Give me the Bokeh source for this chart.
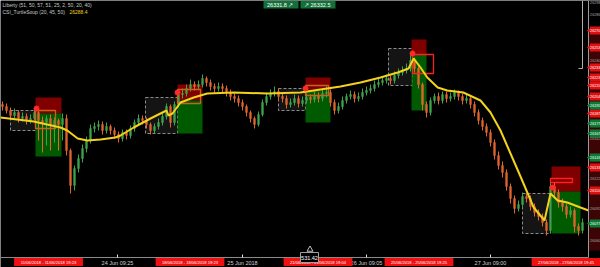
from bokeh.plotting import figure
from bokeh.models import Range1d
from bokeh.core.properties import value
from bokeh.embed import file_html
from bokeh.resources import INLINE

# ---------------- data ----------------
first_open = 26196
closes = [26194, 26190, 26185, 26188, 26182, 26184, 26180, 26182, 26188, 26180,
          26178, 26182, 26175, 26180, 26176, 26182, 26150, 26115, 26132, 26142,
          26152, 26160, 26172, 26174, 26176, 26170, 26174, 26170, 26166, 26162,
          26168, 26165, 26172, 26178, 26182, 26180, 26176, 26170, 26174, 26178,
          26184, 26194, 26178, 26196, 26206, 26207, 26212, 26216, 26214, 26216,
          26222, 26218, 26214, 26212, 26214, 26212, 26208, 26204, 26202, 26198,
          26194, 26188, 26182, 26176, 26186, 26198, 26204, 26207, 26209, 26204,
          26202, 26196, 26198, 26202, 26197, 26200, 26203, 26201, 26205, 26202,
          26207, 26208, 26198, 26190, 26194, 26200, 26204, 26206, 26202, 26204,
          26208, 26210, 26212, 26216, 26218, 26220, 26222, 26220, 26225, 26228,
          26230, 26232, 26240, 26232, 26216, 26196, 26188, 26200, 26204, 26200,
          26206, 26202, 26204, 26208, 26204, 26200, 26202, 26196, 26188, 26180,
          26174, 26168, 26158, 26145, 26135, 26128, 26114, 26102, 26092, 26096,
          26104, 26102, 26094, 26088, 26084, 26078, 26070, 26114, 26108, 26098,
          26094, 26086, 26090, 26074, 26070, 26078]
highs = [26199, 26197, 26193, 26192, 26190, 26188, 26187, 26186, 26193, 26190,
         26184, 26185, 26186, 26183, 26182, 26187, 26186, 26152, 26135, 26146,
         26156, 26164, 26176, 26178, 26180, 26179, 26178, 26176, 26173, 26169,
         26171, 26171, 26175, 26181, 26186, 26185, 26183, 26178, 26177, 26182,
         26188, 26197, 26196, 26199, 26210, 26212, 26216, 26221, 26219, 26220,
         26226, 26224, 26221, 26217, 26218, 26217, 26215, 26211, 26207, 26205,
         26201, 26196, 26190, 26184, 26189, 26201, 26208, 26211, 26214, 26212,
         26207, 26205, 26202, 26206, 26205, 26204, 26207, 26206, 26209, 26208,
         26212, 26214, 26211, 26201, 26198, 26204, 26207, 26210, 26209, 26208,
         26212, 26214, 26216, 26220, 26222, 26224, 26226, 26225, 26229, 26232,
         26234, 26237, 26247, 26243, 26234, 26218, 26199, 26203, 26207, 26208,
         26209, 26209, 26208, 26211, 26210, 26207, 26206, 26204, 26199, 26191,
         26183, 26177, 26171, 26161, 26149, 26139, 26131, 26117, 26105, 26100,
         26108, 26107, 26105, 26097, 26091, 26087, 26081, 26122, 26118, 26111,
         26102, 26097, 26094, 26092, 26077, 26082]
lows = [26190, 26187, 26181, 26182, 26178, 26179, 26176, 26177, 26180, 26160,
        26148, 26155, 26150, 26158, 26150, 26160, 26145, 26107, 26110, 26128,
        26138, 26148, 26157, 26168, 26170, 26166, 26167, 26166, 26162, 26158,
        26159, 26161, 26162, 26169, 26175, 26176, 26172, 26166, 26167, 26171,
        26175, 26181, 26173, 26175, 26193, 26202, 26204, 26209, 26210, 26211,
        26213, 26214, 26210, 26208, 26209, 26208, 26204, 26200, 26198, 26194,
        26190, 26184, 26178, 26172, 26174, 26184, 26195, 26201, 26204, 26200,
        26198, 26192, 26193, 26195, 26193, 26194, 26197, 26197, 26198, 26198,
        26199, 26203, 26194, 26186, 26187, 26191, 26197, 26201, 26198, 26199,
        26201, 26205, 26207, 26209, 26213, 26215, 26217, 26216, 26217, 26222,
        26225, 26227, 26229, 26228, 26212, 26190, 26183, 26185, 26197, 26196,
        26197, 26198, 26199, 26201, 26200, 26196, 26197, 26192, 26184, 26176,
        26170, 26164, 26154, 26141, 26131, 26123, 26110, 26097, 26087, 26089,
        26093, 26098, 26090, 26084, 26080, 26074, 26065, 26068, 26104, 26093,
        26089, 26082, 26083, 26068, 26065, 26067]

ma_index = [-0.5, 7.8, 14.5, 16.2, 18.8, 21.2, 24.5, 28.2, 29.5, 32.8, 37, 41, 41.5,
            42.5, 44.5, 47.8, 51.2, 57.8, 66.2, 74.5, 79.5, 84.5, 89.5, 94.5, 98.8,
            101.5, 102.8, 104.5, 106.2, 108.8, 111.2, 115.2, 119.5, 122, 124.5, 127,
            129.5, 132.8, 135.5, 137, 138.8, 141.2, 144.5, 146.5]
ma_value = [26183, 26179, 26173, 26170, 26162, 26160, 26161, 26163, 26165, 26173,
            26182, 26190, 26185, 26187, 26198, 26203, 26207, 26208, 26207, 26208,
            26211, 26214, 26218, 26223, 26228, 26232, 26242, 26233, 26223, 26213,
            26210, 26208, 26200, 26188, 26170, 26147, 26124, 26093, 26080, 26107,
            26100, 26098, 26093, 26090]

# consolidation ranges (gray boxes)
range_left = [2.0, 35.75, 69.0, 96.5, 130.0]
range_right = [8.25, 43.75, 75.75, 102.5, 137.0]
range_top = [26190, 26203, 26212, 26252, 26107]
range_bottom = [26170, 26167, 26190, 26215, 26067]
# risk / reward zones
zone_left = [8.25, 43.75, 75.75, 102.25, 137.25]
zone_right = [14.75, 50.0, 82.0, 106.0, 144.5]
zone_stop = [26203, 26216, 26223, 26261, 26134]
zone_entry = [26187, 26200, 26210, 26246, 26109]
zone_target = [26144, 26167, 26178, 26190, 26067]
# trade outline boxes
trade_left = [8.25, 43.75, 75.75, 102.5, 137.0]
trade_right = [13.25, 49.5, 81.5, 107.75, 142.5]
trade_top = [26190, 26211, 26215, 26246, 26122]
trade_bottom = [26172, 26197, 26205, 26227, 26118]
trade_state = ["closed", "closed", "closed", "active", "active"]
signal_x = [8.5, 43.75, 75.75, 102.5, 137.5]
signal_y = [26192, 26208, 26212, 26247, 26113]

axis_levels = [26298, 26286, 26270, 26253, 26240, 26233, 26223, 26215, 26204, 26195,
               26187, 26177, 26167, 26162, 26143, 26133, 26122, 26110, 26092, 26077,
               26060]
axis_kinds = ["plain", "plain", "sell", "sell", "plain", "sell", "sell", "sell", "sell",
              "buy", "sell", "buy", "buy", "plain", "buy", "sell", "plain", "sell",
              "plain", "buy", "plain"]

time_ticks = [28.75, 60, 91, 122]
time_labels = ["24 Jun 09:25", "25 Jun 2018", "26 Jun 09:05", "27 Jun 09:00"]
session_labels = ["11/06/2018 - 11/06/2018 19:23", "18/06/2018 - 18/06/2018 19:23",
                  "21/06/2018 - 21/06/2018 19:04", "25/06/2018 - 25/06/2018 19:25",
                  "27/06/2018 - 27/06/2018 19:45"]

legend_line1 = "Liberty (51, 50, 57, 51, 25, 2, 50, 20, 40)"
legend_line2 = "CSI_TurtleSoup (20, 45, 50)"
legend_value = "26288.4"
quote_bid = "26331.8  \u2197"
quote_ask = "\u2197  26332.5"
cursor_label = "531.42"

# ---------------- layout helpers ----------------
W, H = 600, 267
X0, X1 = -0.5, 149.5
Y_TOP, Y_BOT = 26300, 26033


def sx(px):
    return X0 + px * (X1 - X0) / W


def sy(py):
    return Y_TOP - py * (Y_TOP - Y_BOT) / H


FONT = value("Liberation Sans")

p = figure(width=W, height=H, x_range=Range1d(X0, X1), y_range=Range1d(Y_BOT, Y_TOP),
           output_backend="svg", toolbar_location=None,
           x_axis_location=None, y_axis_location=None, min_border=0,
           background_fill_color="black", border_fill_color="black",
           outline_line_color=None)
p.grid.grid_line_color = None

# gray consolidation boxes
p.quad(left=range_left, right=range_right, top=range_top, bottom=range_bottom,
       fill_color="#ffffff", fill_alpha=0.08, line_color="#8c8c8c",
       line_dash="3 2", line_width=1)
# zones
p.quad(left=zone_left, right=zone_right, top=zone_stop, bottom=zone_entry,
       fill_color="#a00000", fill_alpha=0.8, line_color=None)
p.quad(left=zone_left, right=zone_right, top=zone_entry, bottom=zone_target,
       fill_color="#007a00", fill_alpha=0.75, line_color=None)

# candles
idx = list(range(len(closes)))
opens = [first_open] + closes[:-1]
col = ["#3fa34d" if c >= o else "#e0662e" for o, c in zip(opens, closes)]
p.segment(x0=idx, y0=lows, x1=idx, y1=highs, line_color=col, line_width=1)
p.vbar(x=idx, width=0.45, top=[max(o, c) for o, c in zip(opens, closes)],
       bottom=[min(o, c) for o, c in zip(opens, closes)],
       fill_color=col, line_color=col, line_width=0.5)

# trade outlines
tcol = ["#c8601e" if s == "closed" else "#ff2020" for s in trade_state]
p.quad(left=trade_left, right=trade_right, top=trade_top, bottom=trade_bottom,
       fill_color=None, line_color=tcol, line_width=1.3)

# moving average
p.line(ma_index, ma_value, line_color="#f2d21b", line_width=2)
p.scatter(signal_x, signal_y, size=5, color="#ff2a2a")

# ---------------- right price axis ----------------
p.quad(left=sx(588), right=X1, top=Y_TOP, bottom=Y_BOT, fill_color="black", line_color=None)
p.quad(left=sx(588), right=X1, top=sy(28), bottom=sy(250), fill_color="#3c0404", line_color=None)
p.segment(x0=[sx(588)], y0=[Y_TOP], x1=[sx(588)], y1=[sy(257)], line_color="#9a9a9a", line_width=1)
p.segment(x0=[sx(582), sx(578)], y0=[Y_TOP, sy(68)], x1=[sx(582), sx(582)], y1=[sy(68), sy(68)],
          line_color="#b0b0b0", line_width=1)

kind_fill = {"sell": "#e01010", "buy": "#0b7a35"}
for kind in ("sell", "buy"):
    lv = [l for l, k in zip(axis_levels, axis_kinds) if k == kind]
    p.quad(left=sx(589.5), right=X1, top=[l + 4 for l in lv], bottom=[l - 4 for l in lv],
           fill_color=kind_fill[kind], line_color=None)
    p.scatter([sx(589)] * len(lv), lv, marker="triangle", angle=1.5708, size=5,
              fill_color=kind_fill[kind], line_color=None)
p.text(x=[sx(589.6)] * len(axis_levels), y=axis_levels, text=[str(l) for l in axis_levels],
       text_color=["#a8a8a8" if k == "plain" else "#ffffff" for k in axis_kinds],
       text_font=FONT, text_font_size="3.7px", text_baseline="middle", text_align="left")

# ---------------- bottom time axis ----------------
p.segment(x0=[X0], y0=[sy(257)], x1=[sx(588)], y1=[sy(257)], line_color="#8a8a8a", line_width=1)
p.segment(x0=time_ticks, y0=[sy(254)] * len(time_ticks), x1=time_ticks,
          y1=[sy(257)] * len(time_ticks), line_color="#dddddd", line_width=1)
p.text(x=time_ticks, y=[sy(262)] * len(time_ticks), text=time_labels, text_color="#d0d0d0",
       text_font=FONT, text_font_size="5.5px", text_align="center", text_baseline="middle")
zc = [(a + b) / 2 for a, b in zip(zone_left, zone_right)]
p.quad(left=[c - 8.6 for c in zc], right=[min(c + 8.6, X1) for c in zc], top=sy(257.5),
       bottom=sy(265.5), fill_color="#f01010", line_color=None)
p.text(x=zc, y=[sy(261.5)] * len(zc), text=session_labels, text_color="#ffffff",
       text_font=FONT, text_font_size="4.1px", text_align="center", text_baseline="middle")

# cursor label
p.quad(left=sx(300), right=sx(318), top=sy(252), bottom=sy(262), fill_color="black",
       line_color="#a0a0a0", line_width=1)
p.text(x=[sx(309)], y=[sy(257)], text=[cursor_label], text_color="#ffffff", text_font=FONT,
       text_font_size="5.5px", text_align="center", text_baseline="middle")
p.scatter([sx(309.5)], [sy(249)], marker="triangle", size=6, fill_color=None,
          line_color="#c0c0c0", line_width=1)

# ---------------- top overlays ----------------
p.text(x=[sx(2)], y=[sy(4.5)], text=[legend_line1], text_color="#c8c8c8", text_font=FONT,
       text_font_size="5px", text_baseline="middle")
p.text(x=[sx(2)], y=[sy(11.5)], text=[legend_line2], text_color="#c8c8c8", text_font=FONT,
       text_font_size="5px", text_baseline="middle")
p.text(x=[sx(69)], y=[sy(11.5)], text=[legend_value], text_color="#f0d020", text_font=FONT,
       text_font_size="5px", text_baseline="middle")
p.quad(left=[sx(263), sx(300)], right=[sx(298), sx(335)], top=Y_TOP, bottom=sy(8),
       fill_color="#14703a", line_color=None)
p.text(x=[sx(280.5), sx(317.5)], y=[sy(4)] * 2, text=[quote_bid, quote_ask],
       text_color="#ffffff", text_font=FONT, text_font_size="5.5px",
       text_align="center", text_baseline="middle")

open("out.html", "w").write(file_html(p, INLINE))
